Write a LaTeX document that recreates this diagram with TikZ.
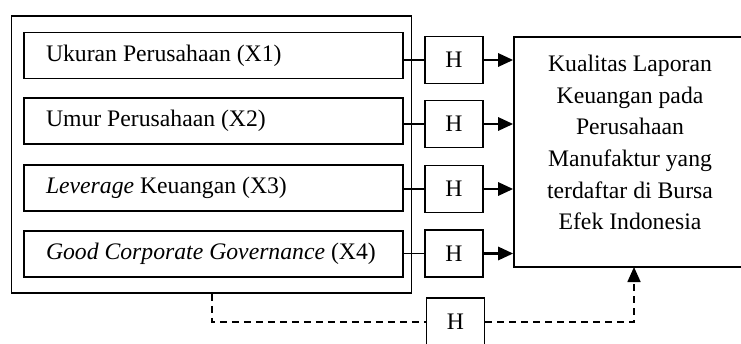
\documentclass[tikz,border=0pt]{standalone}
\usepackage{fontspec}
\setmainfont{Liberation Serif}
\usetikzlibrary{arrows.meta}
\newcommand{\vtext}[1]{\makebox[335pt][l]{#1}}
\begin{document}
\begin{tikzpicture}[x=1pt,y=-1pt,
  txt/.style={font=\fontsize{23.7}{31.7}\selectfont},
  varbox/.style={draw,line width=1.4pt,minimum width=379pt,minimum height=46pt,
    inner xsep=22pt,inner ysep=0pt,txt},
  hbox/.style={draw,line width=1.4pt,minimum width=58pt,minimum height=47pt,inner sep=0pt,txt},
  thin/.style={line width=1.2pt},
  arr/.style={line width=2.8pt,-{Triangle[length=15pt,width=13pt]}},
  darr/.style={line width=1.6pt,dash pattern=on 7pt off 5pt,-{Triangle[length=15pt,width=13pt]}},
  dline/.style={line width=1.6pt,dash pattern=on 7pt off 5pt}]
\useasboundingbox (0,0) rectangle (741,343);
% outer box
\node[draw,line width=1.6pt,minimum width=400pt,minimum height=277pt,inner sep=0pt] (outer) at (211.5,154.5) {};
% inner variable boxes
\node[varbox] (x1) at (213.5,55.5) {\vtext{Ukuran Perusahaan (X1)}};
\node[varbox] (x2) at (213.5,121) {\vtext{Umur Perusahaan (X2)}};
\node[varbox] (x3) at (213.5,188) {\vtext{\textit{Leverage} Keuangan (X3)}};
\node[varbox] (x4) at (213.5,254) {\vtext{\textit{Good Corporate Governance} (X4)}};
% H boxes
\node[hbox] (h1) at (454,60) {H};
\node[hbox] (h2) at (454,124) {H};
\node[hbox] (h3) at (454,189) {H};
\node[hbox] (h4) at (454,253.5) {H};
\node[hbox,minimum height=48pt] (h5) at (455.5,322) {H};
% dependent box
\node[draw,line width=1.6pt,minimum width=231pt,minimum height=230pt,inner sep=0pt] (ybox) at (629.5,152) {};
\node[txt,align=center,inner sep=0pt] (ytext) at (630,142.5) {Kualitas Laporan\\Keuangan pada\\Perusahaan\\Manufaktur yang\\terdaftar di Bursa\\Efek Indonesia};
% connectors
\foreach \i in {1,2,3,4}{
  \draw[thin] (h\i.west) -- (x\i.east |- h\i.west);
  \draw[arr] (h\i.east) -- (ybox.west |- h\i.east);
}
\coordinate (dstart) at (212,293);
\coordinate (dtip) at (634,267);
\draw[dline] (outer.south -| dstart) |- (h5.west);
\draw[darr] (h5.east) -| (dtip);
\end{tikzpicture}
\end{document}
